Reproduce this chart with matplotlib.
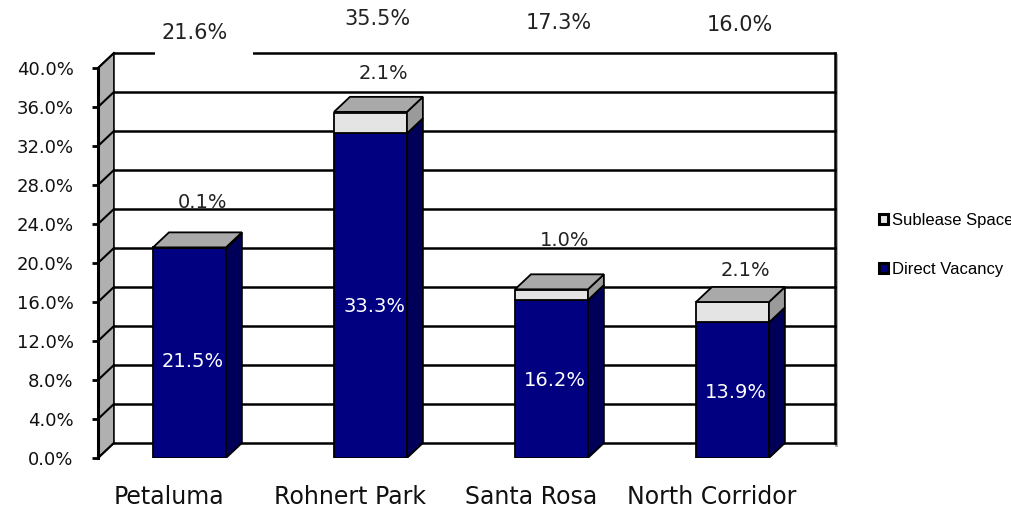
import matplotlib
matplotlib.use("Agg")
import matplotlib.pyplot as plt
from matplotlib.patches import Polygon, Rectangle, Patch

# data
markets = ["Petaluma", "Rohnert Park", "Santa Rosa", "North Corridor"]
direct_vacancy = [21.5, 33.3, 16.2, 13.9]
sublease_space = [0.1, 2.1, 1.0, 2.1]
total_vacancy = [21.6, 35.5, 17.3, 16.0]
y_ticks = [0, 4, 8, 12, 16, 20, 24, 28, 32, 36, 40]

# label heights (in % units) as laid out in the original chart
total_label_y = [43.6, 45.0, 44.6, 44.4]
sub_label_y = [26.2, 39.4, 22.3, 19.2]
direct_label_y = [9.85, 15.5, 8.0, 6.67]

NAVY = "#000080"
NAVY_SIDE = "#000058"
LIGHT = "#e4e4e4"
TOP = "#a9a9a9"
SIDE_GRAY = "#9a9a9a"

fig = plt.figure(figsize=(10.12, 5.11), dpi=100)
ax = fig.add_axes([98 / 1012, 53 / 511, 721 / 1012, 390 / 511])

x_left, x_right = -0.5055, 3.478
ax.set_xlim(x_left, x_right)
ax.set_ylim(0, 40)
dx, dy = 0.088, 1.54   # 3-D depth offset
w = 0.403

# left wall
ax.add_patch(Polygon([(x_left, 0), (x_left + dx, dy), (x_left + dx, 40 + dy), (x_left, 40)],
                     closed=True, facecolor="#b0b0b0", edgecolor="black", lw=1.2,
                     clip_on=False, zorder=1))
# back wall gridlines
for v in y_ticks:
    ax.plot([x_left + dx, x_right + dx], [v + dy, v + dy], color="black", lw=1.8,
            clip_on=False, zorder=1.5)
    ax.plot([x_left, x_left + dx], [v, v + dy], color="black", lw=1.5,
            clip_on=False, zorder=1.5)
# right wall edge
ax.plot([x_right + dx + 0.006] * 2, [dy - 0.2, 40 + dy - 0.2], color="#a0a0a0", lw=2,
        clip_on=False, zorder=1.4)
ax.plot([x_right + dx] * 2, [dy, 40 + dy], color="black", lw=1.8, clip_on=False, zorder=1.5)

# bars
for i, (d, s, t) in enumerate(zip(direct_vacancy, sublease_space, total_vacancy)):
    x0, x1 = i - w / 2, i + w / 2
    ax.add_patch(Rectangle((x0, 0), w, d, facecolor=NAVY, edgecolor="black", lw=1.3, zorder=3))
    ax.add_patch(Rectangle((x0, d), w, s, facecolor=LIGHT, edgecolor="black", lw=1.3, zorder=3))
    ax.add_patch(Polygon([(x1, 0), (x1 + dx, dy), (x1 + dx, d + dy), (x1, d)],
                         facecolor=NAVY_SIDE, edgecolor="black", lw=1.3, zorder=3))
    ax.add_patch(Polygon([(x1, d), (x1 + dx, d + dy), (x1 + dx, t + dy), (x1, t)],
                         facecolor=SIDE_GRAY, edgecolor="black", lw=1.3, zorder=3))
    ax.add_patch(Polygon([(x0, t), (x0 + dx, t + dy), (x1 + dx, t + dy), (x1, t)],
                         facecolor=TOP, edgecolor="black", lw=1.3, zorder=3))

    ax.text(i + 0.03 if i == 0 else i + 0.04, total_label_y[i], f"{t:.1f}%", ha="center",
            va="center", fontsize=15, color="#222222", clip_on=False, zorder=5)
    ax.text(i + 0.07, sub_label_y[i], f"{s:.1f}%", ha="center", va="center",
            fontsize=14, color="#222222", zorder=2)
    ax.text(i + 0.02, direct_label_y[i], f"{d:.1f}%", ha="center", va="center",
            fontsize=14, color="white", zorder=4)
    ax.text(i - 0.115, -4.0, markets[i], ha="center", va="center", fontsize=17,
            color="#111111", clip_on=False)

# white patch behind the first total label, breaking the top border
ax.add_patch(Rectangle((-0.19, 41.2), 0.54, 4.6, facecolor="white", edgecolor="none",
                       clip_on=False, zorder=4))

for side in ["top", "right", "bottom"]:
    ax.spines[side].set_visible(False)
ax.spines["left"].set_linewidth(2.2)
ax.set_xticks([])
ax.set_yticks(y_ticks)
ax.set_yticklabels([f"{v:.1f}%" for v in y_ticks], fontsize=13, color="#111111")
ax.tick_params(axis="y", length=4.5, width=2, pad=13)

handles = [Patch(facecolor=LIGHT, edgecolor="black", lw=2.2),
           Patch(facecolor=NAVY, edgecolor="black", lw=2.2)]
fig.legend(handles, ["Sublease Space", "Direct Vacancy"], loc="center left",
           bbox_to_anchor=(879 / 1012, 1 - 245 / 511), frameon=False,
           prop={"family": "Liberation Sans", "size": 12}, handlelength=0.55,
           handleheight=0.55, handletextpad=0.25, labelspacing=2.0,
           borderpad=0, borderaxespad=0)

fig.savefig("out.png", dpi=100)
